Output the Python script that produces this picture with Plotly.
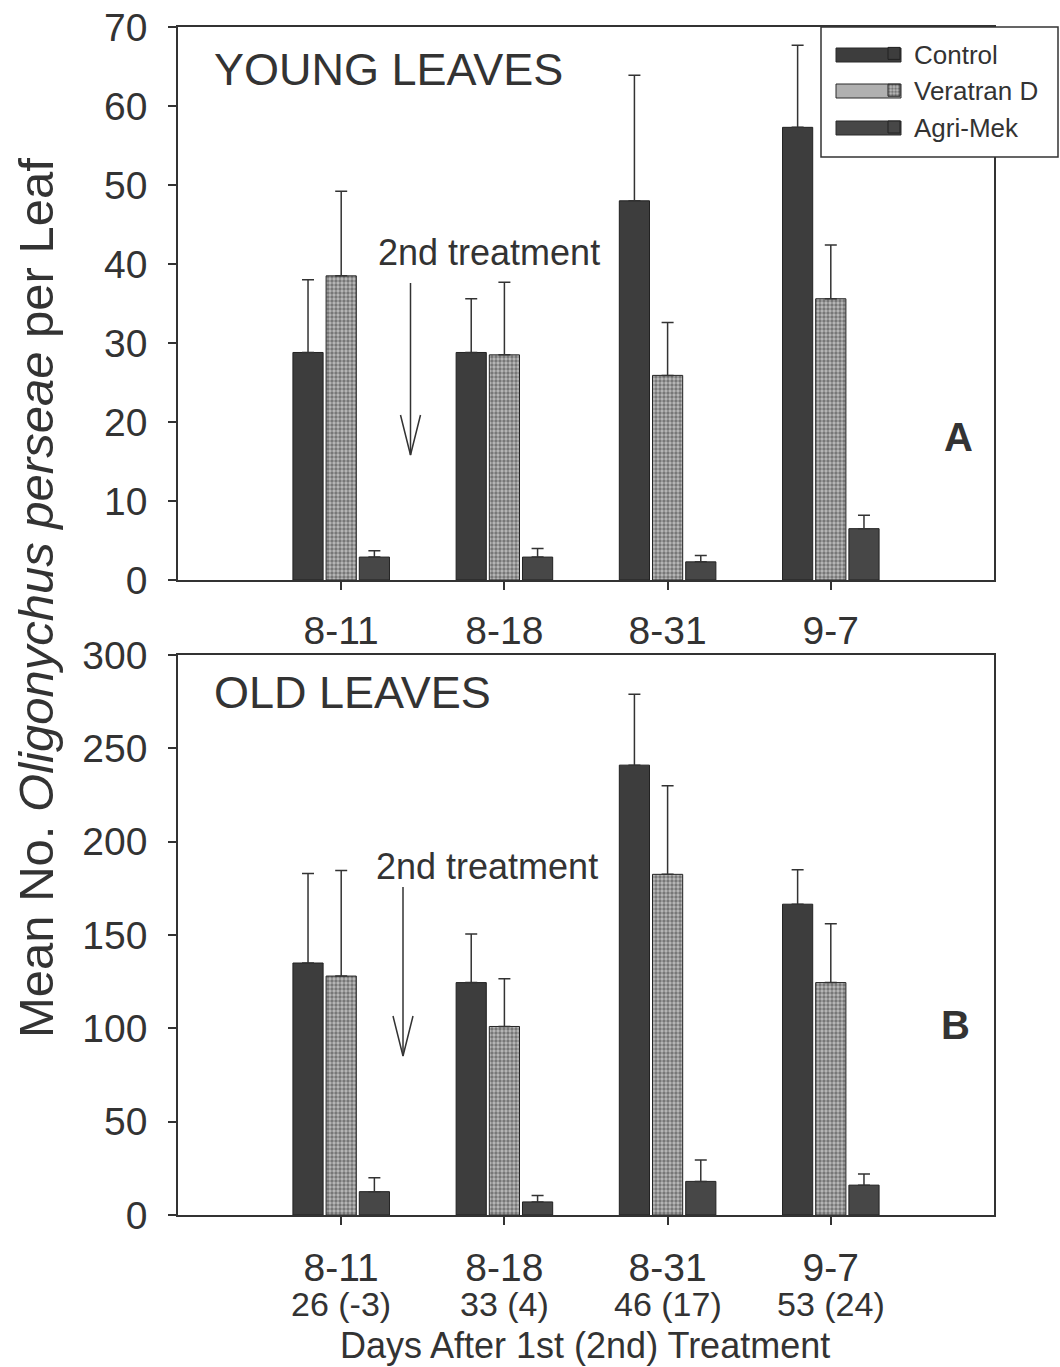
import plotly.graph_objects as go

# ---------------- data ----------------
dates = ["8-11", "8-18", "8-31", "9-7"]
days_after = ["26 (-3)", "33 (4)", "46 (17)", "53 (24)"]
treatments = ["Control", "Veratran D", "Agri-Mek"]

young_control = [28.8, 28.8, 48.0, 57.3]
young_control_se = [9.2, 6.8, 15.9, 10.4]
young_veratran = [38.5, 28.5, 25.9, 35.6]
young_veratran_se = [10.7, 9.2, 6.7, 6.8]
young_agrimek = [2.9, 2.9, 2.3, 6.5]
young_agrimek_se = [0.8, 1.1, 0.8, 1.7]

old_control = [135.0, 124.5, 241.0, 166.5]
old_control_se = [48.0, 26.0, 38.0, 18.5]
old_veratran = [128.0, 101.0, 182.5, 124.5]
old_veratran_se = [56.5, 25.5, 47.5, 31.5]
old_agrimek = [12.5, 7.0, 18.0, 16.0]
old_agrimek_se = [7.5, 3.5, 11.5, 6.0]

young_ticks = [0, 10, 20, 30, 40, 50, 60, 70]
old_ticks = [0, 50, 100, 150, 200, 250, 300]

# ---------------- helpers ----------------
W, H = 1060, 1367
def px(x):
    return x / W
def py(y):
    return 1 - y / H

FONT = "Liberation Sans, Arial, sans-serif"
TXT = "#333333"
AX = "#333333"

styles = {
    "Control": dict(color="#3d3d3d"),
    "Veratran D": dict(color="#b0b0b0",
                       pattern=dict(shape=".", fgcolor="#343434", bgcolor="#bababa",
                                    size=4, solidity=0.55)),
    "Agri-Mek": dict(color="#474747"),
}

fig = go.Figure()

young = [(young_control, young_control_se), (young_veratran, young_veratran_se),
         (young_agrimek, young_agrimek_se)]
old = [(old_control, old_control_se), (old_veratran, old_veratran_se),
       (old_agrimek, old_agrimek_se)]

def add_panel(series, xa, ya, show):
    for name, (vals, se) in zip(treatments, series):
        st = styles[name]
        marker = dict(color=st["color"], line=dict(color="#222222", width=1))
        if "pattern" in st:
            marker["pattern"] = st["pattern"]
        fig.add_trace(go.Bar(
            x=dates, y=vals, name=name, marker=marker, xaxis=xa, yaxis=ya,
            error_y=dict(type="data", array=se, arrayminus=[0] * len(se), symmetric=False,
                         color=AX, thickness=1.5, width=6),
            legendgroup=name, showlegend=show))

add_panel(young, "x", "y", True)
add_panel(old, "x2", "y2", False)

axis_common = dict(showline=True, linecolor=AX, linewidth=1.5, mirror=True,
                   ticks="outside", ticklen=8, tickwidth=1.5, tickcolor=AX,
                   showgrid=False, zeroline=False, automargin=False,
                   tickfont=dict(family=FONT, size=39, color=TXT))

xdom = [px(178), px(994)]
fig.update_layout(
    width=W, height=H,
    margin=dict(l=0, r=0, t=0, b=0, autoexpand=False),
    paper_bgcolor="white", plot_bgcolor="white",
    barmode="group", bargap=0.39, bargroupgap=0.09,
    font=dict(family=FONT, color=TXT),
    xaxis=dict(domain=xdom, anchor="y", type="category", range=[-1, 4],
               ticklabelstandoff=7, **axis_common),
    yaxis=dict(domain=[py(580), py(27)], anchor="x", range=[0, 70],
               tickvals=young_ticks, ticklabelstandoff=13, **axis_common),
    xaxis2=dict(domain=xdom, anchor="y2", type="category", range=[-1, 4],
                ticklabelstandoff=9, **axis_common),
    yaxis2=dict(domain=[py(1215), py(655)], anchor="x2", range=[0, 300],
                tickvals=old_ticks, ticklabelstandoff=13, **axis_common),
    legend=dict(x=px(874), y=py(30), xanchor="left", yanchor="top",
                bgcolor="rgba(0,0,0,0)", borderwidth=0,
                font=dict(family=FONT, size=26, color=TXT),
                tracegroupgap=0, traceorder="normal"),
    showlegend=True,
)

ann = []
# y-axis title
ann.append(dict(text="Mean No. <i>Oligonychus perseae</i> per Leaf", x=px(36), y=py(598),
                xref="paper", yref="paper", xanchor="center", yanchor="middle",
                showarrow=False, textangle=-90,
                font=dict(family=FONT, size=49, color=TXT)))
# panel labels
ann.append(dict(text="YOUNG LEAVES", x=px(212), y=py(70), xref="paper", yref="paper",
                xanchor="left", yanchor="middle", showarrow=False,
                font=dict(family=FONT, size=45, color=TXT)))
ann.append(dict(text="OLD LEAVES", x=px(212), y=py(692), xref="paper", yref="paper",
                xanchor="left", yanchor="middle", showarrow=False,
                font=dict(family=FONT, size=45, color=TXT)))
ann.append(dict(text="<b>A</b>", x=px(958), y=py(437), xref="paper", yref="paper",
                xanchor="center", yanchor="middle",
                showarrow=False, font=dict(family=FONT, size=40, color=TXT)))
ann.append(dict(text="<b>B</b>", x=px(955), y=py(1025), xref="paper", yref="paper",
                xanchor="center", yanchor="middle",
                showarrow=False, font=dict(family=FONT, size=40, color=TXT)))
# 2nd treatment labels
ann.append(dict(text="2nd treatment", x=px(489), y=py(252), xref="paper", yref="paper",
                xanchor="center", yanchor="middle",
                showarrow=False, font=dict(family=FONT, size=36, color=TXT)))
ann.append(dict(text="2nd treatment", x=px(487), y=py(866), xref="paper", yref="paper",
                xanchor="center", yanchor="middle",
                showarrow=False, font=dict(family=FONT, size=36, color=TXT)))
# days after treatment line
for d, lab in zip(dates, days_after):
    ann.append(dict(text=lab, x=d, y=py(1304), xref="x2", yref="paper",
                    xanchor="center", yanchor="middle",
                    showarrow=False, font=dict(family=FONT, size=34, color=TXT)))
ann.append(dict(text="Days After 1st (2nd) Treatment", x=px(585), y=py(1345),
                xref="paper", yref="paper", xanchor="center", yanchor="middle",
                showarrow=False, font=dict(family=FONT, size=36, color=TXT)))
fig.update_layout(annotations=ann)

shapes = []
# arrows
for (xa, y0, y1) in [(410.5, 283, 455), (403, 887, 1056)]:
    shapes.append(dict(type="line", xref="paper", yref="paper",
                       x0=px(xa), x1=px(xa), y0=py(y0), y1=py(y1),
                       line=dict(color=AX, width=1.5)))
    shapes.append(dict(type="path", xref="paper", yref="paper",
                       path=f"M {px(xa-10)} {py(y1-40)} L {px(xa)} {py(y1)} L {px(xa+10)} {py(y1-40)}",
                       line=dict(color=AX, width=1.5)))
# legend frame and wide swatches
shapes.append(dict(type="rect", xref="paper", yref="paper",
                   x0=px(821), x1=px(1058), y0=py(157), y1=py(27),
                   line=dict(color=AX, width=1.5), fillcolor="white", layer="above"))
for name, yc in zip(treatments, [55, 91, 128]):
    shapes.append(dict(type="rect", xref="paper", yref="paper",
                       x0=px(836), x1=px(901), y0=py(yc + 7), y1=py(yc - 7),
                       line=dict(color="#2a2a2a", width=1),
                       fillcolor=styles[name]["color"], layer="above"))
fig.update_layout(shapes=shapes)

fig.write_html("out.html")
